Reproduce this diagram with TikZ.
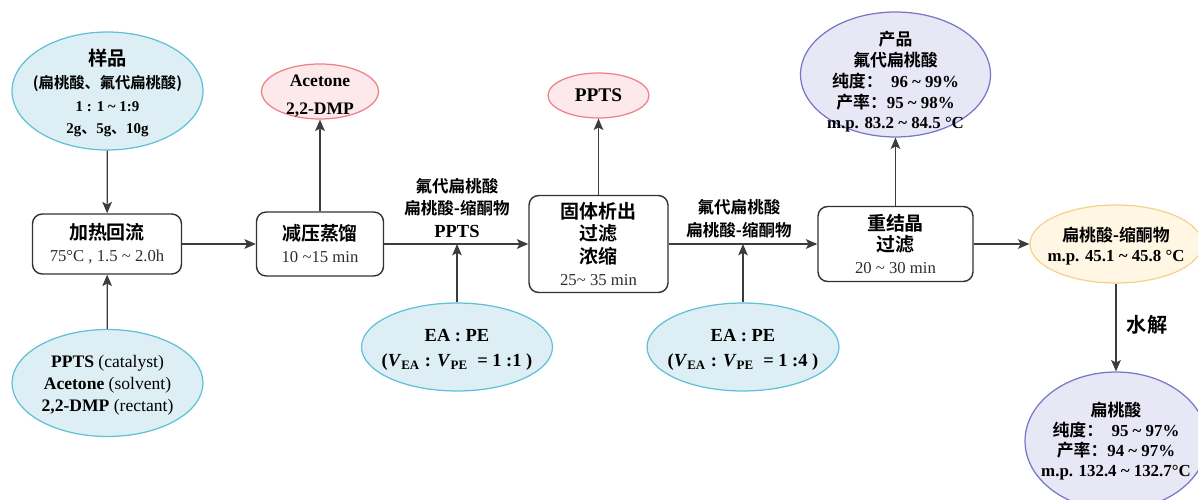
\documentclass[tikz,border=0pt]{standalone}
\usepackage{fontspec}
\setmainfont{Liberation Serif}
\newfontfamily\cjkfont{Noto Sans CJK SC}[BoldFont={Noto Sans CJK SC Bold}]
\newcommand\zh[1]{{\cjkfont\bfseries #1}}
\usetikzlibrary{shapes.geometric,arrows.meta}

\definecolor{linec}{RGB}{60,60,60}
\definecolor{boxc}{RGB}{50,50,50}
\definecolor{timec}{RGB}{45,45,45}
\definecolor{cyanf}{RGB}{221,239,245}
\definecolor{cyanb}{RGB}{95,192,216}
\definecolor{redf}{RGB}{253,232,235}
\definecolor{redb}{RGB}{238,128,134}
\definecolor{purf}{RGB}{232,231,246}
\definecolor{purb}{RGB}{118,118,200}
\definecolor{yelf}{RGB}{255,246,228}
\definecolor{yelb}{RGB}{244,210,140}

\newcommand\tm{\fontsize{9.5}{12.5pt}\selectfont\mdseries\color{timec}}
\newcommand\tl{\textasciitilde}

\tikzset{
  stepbox/.style={draw=boxc, line width=0.8pt, rounded corners=5.5pt, fill=white,
    align=center, inner sep=0pt, font=\fontsize{10.8}{12.5pt}\selectfont},
  ell/.style={ellipse, line width=0.7pt, inner sep=0pt},
  cyanell/.style={ell, draw=cyanb, fill=cyanf},
  redell/.style={ell, draw=redb, fill=redf},
  purell/.style={ell, draw=purb, fill=purf},
  yelell/.style={ell, draw=yelb, fill=yelf},
  lbl/.style={align=center, inner sep=0pt},
  arr/.style={draw=linec, line width=0.7pt, -{Stealth[length=6.5pt,width=5.5pt,inset=1.5pt]}},
}

\begin{document}
\begin{tikzpicture}[x=0.02cm,y=-0.02cm]
\useasboundingbox (0,0) rectangle (1198,500);
\clip (0,0) rectangle (1198,500);

% process steps
\node[stepbox, minimum width=2.98cm, minimum height=1.2cm] (heat) at (107,244)
  {\zh{加热回流}\\{\tm 75°C , 1.5 \tl\ 2.0h}};
\node[stepbox, minimum width=2.54cm, minimum height=1.28cm] (vac) at (320,244)
  {\zh{减压蒸馏}\\{\tm 10 \tl15 min}};
\node[stepbox, minimum width=2.78cm, minimum height=1.94cm,
  font=\fontsize{10.8}{12.7pt}\selectfont] (solid) at (598.5,244)
  {\zh{固体析出}\\\zh{过滤}\\\zh{浓缩}\\{\tm 25\tl\ 35 min}};
\node[stepbox, minimum width=3.1cm, minimum height=1.5cm,
  font=\fontsize{10.8}{12.2pt}\selectfont] (recry) at (895.5,244)
  {\zh{重结晶}\\\zh{过滤}\\{\tm 20 \tl\ 30 min}};

% input ellipses
\node[cyanell, minimum width=3.82cm, minimum height=2.36cm] (sample) at (107.5,91) {};
\node[cyanell, minimum width=3.82cm, minimum height=2.14cm] (reag) at (107.5,383) {};
\node[cyanell, minimum width=3.82cm, minimum height=1.76cm] (ea1) at (457,347) {};
\node[cyanell, minimum width=3.84cm, minimum height=1.76cm] (ea2) at (743,347) {};

% output ellipses
\node[redell, minimum width=2.34cm, minimum height=1.1cm] (waste) at (320,91.5) {};
\node[redell, minimum width=2.02cm, minimum height=0.9cm] (ppts) at (598.5,95.5) {};
\node[purell, minimum width=3.8cm, minimum height=2.5cm] (prod) at (895.5,74.5) {};
\node[yelell, minimum width=3.44cm, minimum height=1.56cm] (ketal) at (1116,244) {};
\node[purell, minimum width=3.64cm, minimum height=2.76cm] (mand) at (1116,441) {};

% ellipse texts
\node[lbl, font=\fontsize{8.5}{13pt}\selectfont\bfseries] (sampleT) at (107.5,93)
  {{\fontsize{11}{13pt}\selectfont\zh{样品}}\\
   {\fontsize{8.7}{13pt}\selectfont\zh{(扁桃酸、氟代扁桃酸)}}\\
   1 : 1 \tl\ 1:9\\
   2g\zh{、}5g\zh{、}10g};
\node[lbl, font=\fontsize{10}{12.5pt}\selectfont] (reagT) at (107.5,385)
  {\textbf{PPTS} (catalyst)\\\textbf{Acetone} (solvent)\\\textbf{2,2-DMP} (rectant)};
\node[lbl, font=\fontsize{10.5}{14pt}\selectfont\bfseries] (ea1T) at (457,350)
  {EA : PE\\(\textit{V}\textsubscript{EA} : \textit{V}\textsubscript{PE} \ = 1 :1 )};
\node[lbl, font=\fontsize{10.5}{14pt}\selectfont\bfseries] (ea2T) at (743,350)
  {EA : PE\\(\textit{V}\textsubscript{EA} : \textit{V}\textsubscript{PE} \ = 1 :4 )};
\node[lbl, font=\fontsize{10}{16pt}\selectfont\bfseries] (wasteT) at (320,96)
  {Acetone\\2,2-DMP};
\node[lbl, font=\fontsize{11}{13pt}\selectfont\bfseries] (pptsT) at (ppts) {PPTS};
\node[lbl, font=\fontsize{9.6}{11.8pt}\selectfont\bfseries] (prodT) at (895.5,82)
  {\zh{产品}\\\zh{氟代扁桃酸}\\\zh{纯度：}\ \ 96 \tl\ 99\%\\\zh{产率：}95 \tl\ 98\%\\m.p. 83.2 \tl\ 84.5 °C};
\node[lbl, font=\fontsize{9.6}{11.5pt}\selectfont\bfseries] (ketalT) at (1116,246)
  {\zh{扁桃酸-缩酮物}\\m.p. 45.1 \tl\ 45.8 °C};
\node[lbl, font=\fontsize{9.6}{11.5pt}\selectfont\bfseries] (mandT) at (mand)
  {\zh{扁桃酸}\\\zh{纯度：}\ \ 95 \tl\ 97\%\\\zh{产率：}94 \tl\ 97\%\\m.p. 132.4 \tl\ 132.7°C};

% stream labels
\node[lbl, font=\fontsize{9.4}{13pt}\selectfont] (lab1) at (457,208)
  {\zh{氟代扁桃酸}\\\zh{扁桃酸-缩酮物}\\{\fontsize{10.5}{13pt}\selectfont\bfseries PPTS}};
\node[lbl, font=\fontsize{9.4}{13pt}\selectfont] (lab2) at (739,218.5)
  {\zh{氟代扁桃酸}\\\zh{扁桃酸-缩酮物}};
\node[lbl, font=\fontsize{11.5}{13pt}\selectfont] (hyd) at (1147,325) {\zh{水解}};

% junctions on the main line
\coordinate (j1) at (457,244);
\coordinate (j2) at (743,244);

% connectors
\draw[arr] (sample) -- (heat);
\draw[arr] (reag) -- (heat);
\draw[arr] (heat) -- (vac);
\draw[arr] (vac) -- (waste);
\draw[arr] (vac) -- (solid);
\draw[arr] (ea1) -- (j1);
\draw[arr] (solid) -- (ppts);
\draw[arr] (solid) -- (recry);
\draw[arr] (ea2) -- (j2);
\draw[arr] (recry) -- (prod);
\draw[arr] (recry) -- (ketal);
\draw[arr] (ketal) -- (mand);
\end{tikzpicture}
\end{document}
